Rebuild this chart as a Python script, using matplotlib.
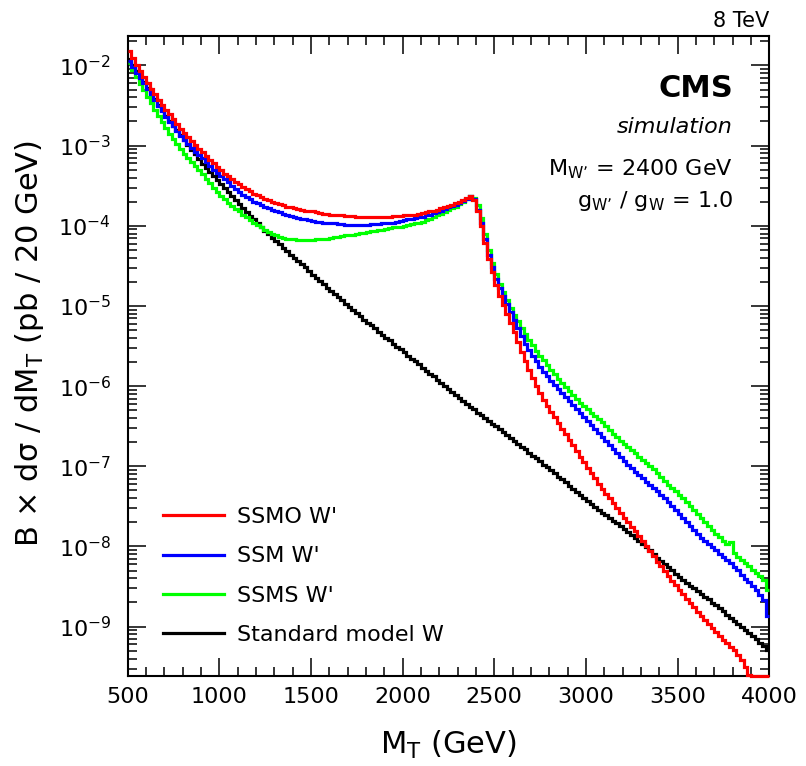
"""W' transverse mass spectra, 8 TeV simulation"""
import numpy as np
import matplotlib
matplotlib.use("Agg")
import matplotlib.pyplot as plt
from matplotlib.lines import Line2D
from matplotlib.ticker import LogLocator, MultipleLocator, NullFormatter

plt.rcParams['font.family'] = ['DejaVu Sans']
plt.rcParams['mathtext.default'] = 'regular'

# MT binning (GeV), 20 GeV wide bins
bin_low = 500
bin_high = 4000
bin_width = 20

# log10(B x dsigma/dMT) per bin, bin starts 500, 520, ...
ssmo_log = [
    -1.82, -1.91, -1.99, -2.07, -2.15, -2.22, -2.29, -2.36, -2.43, -2.49,
    -2.55, -2.61, -2.67, -2.73, -2.79, -2.84, -2.89, -2.94, -2.99, -3.04,
    -3.08, -3.13, -3.18, -3.22, -3.27, -3.31, -3.35, -3.38, -3.42, -3.45,
    -3.48, -3.51, -3.54, -3.57, -3.60, -3.62, -3.64, -3.66, -3.68, -3.70,
    -3.71, -3.73, -3.74, -3.76, -3.77, -3.78, -3.79, -3.80, -3.81, -3.82,
    -3.82, -3.83, -3.84, -3.85, -3.85, -3.86, -3.86, -3.87, -3.87, -3.88,
    -3.88, -3.88, -3.89, -3.89, -3.89, -3.89, -3.89, -3.89, -3.89, -3.89,
    -3.89, -3.89, -3.88, -3.88, -3.88, -3.87, -3.87, -3.86, -3.86, -3.85,
    -3.84, -3.83, -3.82, -3.81, -3.80, -3.78, -3.77, -3.75, -3.74, -3.72,
    -3.70, -3.68, -3.65, -3.63, -3.68, -3.82, -4.00, -4.22, -4.42, -4.58,
    -4.74, -4.88, -4.99, -5.10, -5.21, -5.33, -5.45, -5.57, -5.69, -5.80,
    -5.90, -6.00, -6.09, -6.17, -6.25, -6.32, -6.39, -6.46, -6.53, -6.60,
    -6.67, -6.74, -6.81, -6.88, -6.95, -7.02, -7.09, -7.15, -7.22, -7.28,
    -7.34, -7.40, -7.46, -7.52, -7.58, -7.64, -7.70, -7.76, -7.81, -7.87,
    -7.93, -7.99, -8.06, -8.12, -8.19, -8.25, -8.31, -8.37, -8.43, -8.48,
    -8.54, -8.59, -8.65, -8.70, -8.76, -8.82, -8.87, -8.92, -8.97, -9.02,
    -9.07, -9.12, -9.17, -9.21, -9.25, -9.29, -9.35, -9.42, -9.50, -9.60,
    -9.68, -9.75, -9.82, -9.88, -9.95,
]
ssm_log = [
    -1.95, -2.02, -2.09, -2.16, -2.22, -2.29, -2.36, -2.43, -2.50, -2.57,
    -2.64, -2.70, -2.76, -2.82, -2.88, -2.93, -2.98, -3.03, -3.08, -3.12,
    -3.16, -3.21, -3.25, -3.30, -3.34, -3.38, -3.42, -3.46, -3.50, -3.54,
    -3.58, -3.61, -3.64, -3.67, -3.70, -3.72, -3.74, -3.76, -3.78, -3.80,
    -3.82, -3.83, -3.85, -3.86, -3.88, -3.89, -3.90, -3.91, -3.92, -3.93,
    -3.94, -3.95, -3.95, -3.96, -3.96, -3.97, -3.97, -3.98, -3.98, -3.99,
    -3.99, -3.99, -3.99, -3.99, -3.99, -3.99, -3.98, -3.98, -3.98, -3.97,
    -3.97, -3.96, -3.96, -3.95, -3.94, -3.93, -3.92, -3.91, -3.90, -3.89,
    -3.89, -3.87, -3.86, -3.84, -3.83, -3.81, -3.79, -3.77, -3.75, -3.74,
    -3.72, -3.69, -3.66, -3.63, -3.67, -3.80, -3.97, -4.17, -4.36, -4.52,
    -4.66, -4.78, -4.88, -4.98, -5.08, -5.18, -5.28, -5.38, -5.47, -5.55,
    -5.62, -5.69, -5.76, -5.82, -5.88, -5.93, -5.99, -6.04, -6.09, -6.14,
    -6.19, -6.24, -6.29, -6.34, -6.39, -6.44, -6.49, -6.54, -6.59, -6.64,
    -6.69, -6.74, -6.79, -6.84, -6.88, -6.93, -6.98, -7.02, -7.07, -7.11,
    -7.15, -7.19, -7.23, -7.27, -7.31, -7.36, -7.40, -7.45, -7.50, -7.55,
    -7.60, -7.65, -7.70, -7.75, -7.80, -7.85, -7.89, -7.93, -7.97, -8.01,
    -8.05, -8.09, -8.13, -8.17, -8.21, -8.26, -8.30, -8.35, -8.40, -8.44,
    -8.49, -8.54, -8.60, -8.67, -8.87,
]
ssms_log = [
    -1.97, -2.06, -2.15, -2.23, -2.31, -2.39, -2.47, -2.55, -2.63, -2.71,
    -2.78, -2.85, -2.92, -2.98, -3.04, -3.10, -3.15, -3.21, -3.26, -3.31,
    -3.36, -3.42, -3.47, -3.53, -3.58, -3.63, -3.67, -3.71, -3.75, -3.79,
    -3.82, -3.86, -3.89, -3.93, -3.96, -3.99, -4.02, -4.05, -4.08, -4.10,
    -4.12, -4.14, -4.15, -4.16, -4.17, -4.17, -4.18, -4.18, -4.18, -4.18,
    -4.175, -4.17, -4.17, -4.16, -4.16, -4.15, -4.14, -4.14, -4.13, -4.12,
    -4.12, -4.11, -4.10, -4.09, -4.09, -4.08, -4.07, -4.06, -4.05, -4.05,
    -4.04, -4.03, -4.02, -4.01, -4.01, -4.00, -3.99, -3.98, -3.97, -3.96,
    -3.95, -3.93, -3.91, -3.89, -3.87, -3.85, -3.83, -3.80, -3.78, -3.76,
    -3.73, -3.70, -3.66, -3.63, -3.65, -3.74, -3.90, -4.10, -4.30, -4.46,
    -4.60, -4.72, -4.83, -4.93, -5.02, -5.11, -5.19, -5.27, -5.35, -5.42,
    -5.49, -5.56, -5.62, -5.68, -5.74, -5.80, -5.85, -5.91, -5.96, -6.01,
    -6.06, -6.11, -6.16, -6.21, -6.25, -6.29, -6.33, -6.37, -6.41, -6.45,
    -6.50, -6.55, -6.60, -6.64, -6.68, -6.72, -6.76, -6.80, -6.84, -6.88,
    -6.92, -6.96, -7.00, -7.04, -7.09, -7.13, -7.18, -7.23, -7.27, -7.31,
    -7.36, -7.40, -7.45, -7.50, -7.55, -7.60, -7.65, -7.70, -7.74, -7.79,
    -7.84, -7.88, -7.93, -7.97, -7.95, -8.08, -8.13, -8.17, -8.21, -8.25,
    -8.29, -8.33, -8.37, -8.42, -8.54,
]
sm_log = [
    -1.92, -1.99, -2.07, -2.14, -2.21, -2.28, -2.35, -2.42, -2.49, -2.56,
    -2.63, -2.69, -2.75, -2.81, -2.87, -2.93, -2.99, -3.05, -3.11, -3.17,
    -3.23, -3.28, -3.33, -3.38, -3.43, -3.48, -3.53, -3.58, -3.63, -3.68,
    -3.73, -3.78, -3.83, -3.88, -3.92, -3.97, -4.01, -4.06, -4.10, -4.15,
    -4.19, -4.23, -4.28, -4.32, -4.36, -4.40, -4.44, -4.48, -4.52, -4.57,
    -4.61, -4.65, -4.69, -4.73, -4.77, -4.81, -4.85, -4.89, -4.93, -4.97,
    -5.01, -5.05, -5.09, -5.13, -5.17, -5.21, -5.24, -5.28, -5.32, -5.36,
    -5.40, -5.43, -5.47, -5.51, -5.54, -5.58, -5.62, -5.66, -5.69, -5.73,
    -5.77, -5.81, -5.85, -5.88, -5.92, -5.96, -6.00, -6.04, -6.07, -6.11,
    -6.15, -6.19, -6.22, -6.26, -6.29, -6.33, -6.36, -6.40, -6.43, -6.47,
    -6.50, -6.54, -6.57, -6.61, -6.65, -6.68, -6.72, -6.76, -6.79, -6.83,
    -6.87, -6.90, -6.94, -6.98, -7.01, -7.05, -7.09, -7.13, -7.16, -7.20,
    -7.24, -7.28, -7.32, -7.36, -7.39, -7.43, -7.47, -7.51, -7.54, -7.58,
    -7.61, -7.64, -7.68, -7.71, -7.74, -7.78, -7.82, -7.86, -7.89, -7.93,
    -7.97, -8.01, -8.05, -8.09, -8.14, -8.18, -8.22, -8.26, -8.30, -8.34,
    -8.38, -8.42, -8.45, -8.49, -8.52, -8.56, -8.59, -8.63, -8.66, -8.70,
    -8.73, -8.77, -8.81, -8.85, -8.89, -8.93, -8.97, -9.01, -9.04, -9.08,
    -9.12, -9.16, -9.20, -9.24, -9.29,
]

labels = ["SSMO W'", "SSM W'", "SSMS W'", "Standard model W"]
colors = ["#ff0000", "#0000ff", "#00ff00", "#000000"]

y_min, y_max = 2.4e-10, 2.33e-2

edges = np.arange(bin_low, bin_high + bin_width, bin_width)
series = [ssmo_log, ssm_log, ssms_log, sm_log]

fig = plt.figure(figsize=(8.06, 7.66), dpi=100)
ax = fig.add_axes([0.1584, 0.1171, 0.7960, 0.8359])

# draw SM first so the W' curves sit on top of it;
# bins below the frame are drawn along the bottom edge like ROOT does
for vals, col in reversed(list(zip(series, colors))):
    y = np.clip(10.0 ** np.array(vals), y_min, None)
    ax.stairs(y, edges, color=col, linewidth=2.3, baseline=None,
              clip_on=False, zorder=3)

ax.set_yscale('log')
ax.set_xlim(bin_low, bin_high)
ax.set_ylim(y_min, y_max)

ax.xaxis.set_major_locator(MultipleLocator(500))
ax.xaxis.set_minor_locator(MultipleLocator(100))
ax.yaxis.set_major_locator(LogLocator(base=10, numticks=20))
ax.yaxis.set_minor_locator(LogLocator(base=10, subs=np.arange(2, 10), numticks=200))
ax.yaxis.set_minor_formatter(NullFormatter())

ax.tick_params(which='both', direction='in', top=True, right=True, width=1.1)
ax.tick_params(which='major', length=13, labelsize=16)
ax.tick_params(which='minor', length=6.5)
ax.tick_params(axis='x', which='major', pad=8)
ax.tick_params(axis='y', which='major', pad=12)
for sp in ax.spines.values():
    sp.set_linewidth(1.5)

ax.set_xlabel("M$_{T}$ (GeV)", fontsize=22)
ax.set_ylabel("B × dσ / dM$_{T}$ (pb / 20 GeV)", fontsize=22)
ax.xaxis.set_label_coords(0.5, -0.082)
ax.yaxis.set_label_coords(-0.128, 0.52)

handles = [Line2D([], [], color=c, linewidth=2.3) for c in colors]
ax.legend(handles, labels, loc='upper left', frameon=False, fontsize=16,
          bbox_to_anchor=(163 / 806, 1 - 507 / 766), bbox_transform=fig.transFigure,
          borderpad=0, borderaxespad=0, handlelength=2.75, handletextpad=0.6,
          labelspacing=0.87)

fig.text(769 / 806, 1 - 27 / 766, "8 TeV", ha='right', va='baseline', fontsize=15)
fig.text(733 / 806, 1 - 97 / 766, "CMS", ha='right', va='baseline', fontsize=22,
         fontweight='bold')
fig.text(733 / 806, 1 - 133 / 766, "simulation", ha='right', va='baseline',
         fontsize=16, style='italic')
fig.text(733 / 806, 1 - 175 / 766, "M$_{W\u2019}$ = 2400 GeV", ha='right',
         va='baseline', fontsize=16)
fig.text(733 / 806, 1 - 207 / 766, "g$_{W\u2019}$ / g$_{W}$ = 1.0", ha='right',
         va='baseline', fontsize=16)

fig.savefig("out.png", dpi=100)
